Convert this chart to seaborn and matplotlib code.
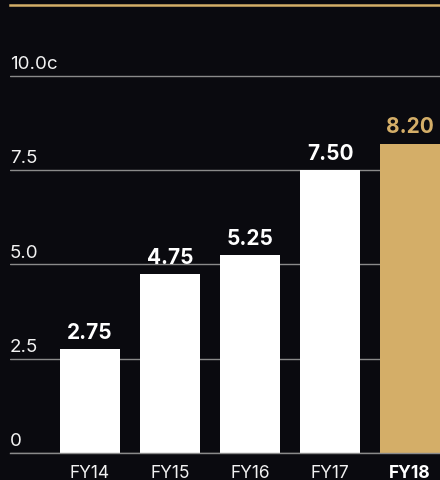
import matplotlib
matplotlib.use("Agg")
import matplotlib.pyplot as plt
import seaborn as sns
import pandas as pd

# Dividend per share by financial year (cents)
years = ["FY14", "FY15", "FY16", "FY17", "FY18"]
dividends = [2.75, 4.75, 5.25, 7.50, 8.20]
value_labels = ["2.75", "4.75", "5.25", "7.50", "8.20"]
y_ticks = [0, 2.5, 5.0, 7.5, 10.0]
y_tick_labels = ["0", "2.5", "5.0", "7.5", "10.0c"]

BG = "#0a0a0f"
GOLD = "#d4ae68"
WHITE = "#ffffff"
GRID = "#8a8a8a"
TEXT = "#f2f2f2"

sns.set_theme(style="white")
plt.rcParams["font.family"] = ["Inter", "DejaVu Sans"]

fig = plt.figure(figsize=(4.4, 4.81), dpi=100, facecolor=BG)
ax = fig.add_axes([10 / 440, 27 / 481, 430 / 440, 448 / 481])
ax.set_facecolor(BG)

df = pd.DataFrame({"year": years, "dividend": dividends})
bar_colors = [WHITE, WHITE, WHITE, WHITE, GOLD]
sns.barplot(data=df, x="year", y="dividend", hue="year", palette=bar_colors,
            width=0.76, saturation=1, legend=False, ax=ax,
            edgecolor="none", linewidth=0)

ax.set_xlim(-1.0, 4.375)
ax.set_ylim(0, 11.87)
ax.set_xlabel("")
ax.set_ylabel("")

# horizontal guides behind the bars
ax.set_yticks(y_ticks)
ax.yaxis.grid(True, color=GRID, linewidth=1.0)
ax.set_axisbelow(True)
ax.tick_params(axis="y", left=False, labelleft=False)
for v, lab in zip(y_ticks, y_tick_labels):
    ax.annotate(lab, xy=(0, v), xycoords=("axes fraction", "data"),
                xytext=(0, 5.5), textcoords="offset points",
                ha="left", va="baseline", color=TEXT, fontsize=13.5)

# category labels under the bars, latest year emphasised
ax.tick_params(axis="x", bottom=False, pad=2, labelsize=12.5, labelcolor=TEXT)
for lbl in ax.get_xticklabels():
    if lbl.get_text() == years[-1]:
        lbl.set_fontweight("bold")
        lbl.set_color(WHITE)

# value labels on top of each bar
for i, (v, lab) in enumerate(zip(dividends, value_labels)):
    ax.annotate(lab, xy=(i, v), xytext=(0, 8), textcoords="offset points",
                ha="center", va="baseline", fontsize=15, fontweight="bold",
                color=GOLD if i == len(years) - 1 else WHITE)

for side in ("left", "right"):
    ax.spines[side].set_visible(False)
ax.spines["bottom"].set_color(GRID)
ax.spines["bottom"].set_linewidth(1.0)
ax.spines["top"].set_color(GOLD)
ax.spines["top"].set_linewidth(1.8)

fig.savefig("out.png", dpi=100, facecolor=BG)
